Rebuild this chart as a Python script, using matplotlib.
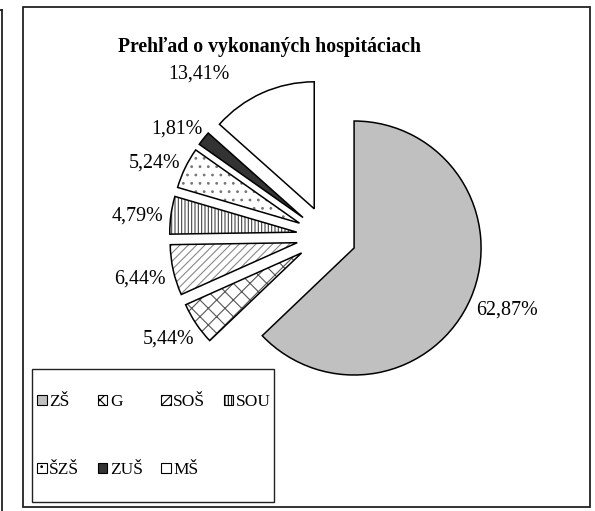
import numpy as np
import matplotlib
matplotlib.use("Agg")
import matplotlib.pyplot as plt
import matplotlib.patches as mpatches

plt.rcParams['font.family'] = ['Liberation Serif', 'DejaVu Serif']
plt.rcParams['hatch.linewidth'] = 0.8

# data
labels = ["ZŠ", "G", "SOŠ", "SOU", "ŠZŠ", "ZUŠ", "MŠ"]
shares = [62.87, 5.44, 6.44, 4.79, 5.24, 1.81, 13.41]
title = "Prehľad o vykonaných hospitáciach"

# fills imitating the Excel black/white patterns
faces = ["#c0c0c0", "white", "white", "white", "white", "#333333", "white"]
hatches = [None, "xx", "////", "|||||", "..", None, None]
hatch_cols = [None, "#555555", "#888888", "#444444", "#777777", None, None]

W, H = 595, 511
fig = plt.figure(figsize=(W / 100, H / 100), dpi=100)
ax = fig.add_axes([0, 0, 1, 1])

r = 127
center = (326.5, H - 236.2)
# explode is in data units here, so the 30 px gap of the original
wedges, texts, autotexts = ax.pie(
    shares, radius=r, center=center, startangle=90, counterclock=False,
    explode=[30] * len(shares), colors=faces,
    autopct=lambda p: f"{p:.2f}%".replace(".", ","), pctdistance=1.3,
    wedgeprops=dict(edgecolor="black", linewidth=1.1),
    textprops=dict(fontsize=14.4, color="black"))

# hatched wedges: draw hatch in gray, then a black outline on top
for w, h, hc in zip(wedges, hatches, hatch_cols):
    if h:
        w.set_hatch(h)
        w.set_edgecolor(hc)
        w.set_linewidth(0)
        ax.add_patch(mpatches.Wedge(w.center, w.r, w.theta1, w.theta2,
                                    fill=False, edgecolor="black", linewidth=1.1))

ax.set_xlim(0, W)
ax.set_ylim(0, H)
ax.set_aspect("equal")
ax.axis("off")

# place labels Excel-style: box just outside the arc, pushed by half its size
fig.canvas.draw()
for w, t in zip(wedges[:-1], autotexts[:-1]):
    th = np.deg2rad((w.theta1 + w.theta2) / 2)
    bb = t.get_window_extent()
    c, s = np.cos(th), np.sin(th)
    d = w.r + 8
    t.set_position((w.center[0] + d * c + bb.width / 2 * c,
                    w.center[1] + d * s + 13 * s - 4))

# Excel nudged the MŠ label away from the title
w = wedges[-1]
th = np.deg2rad((w.theta1 + w.theta2) / 2 + 16)
autotexts[-1].set_position((w.center[0] + 1.41 * r * np.cos(th),
                            w.center[1] + 1.41 * r * np.sin(th) - 2))

ax.text(269, H - 47, title, ha="center", va="center", fontsize=14.2, fontweight="bold")

# chart frame and the edge of the neighbouring chart
ax.add_patch(mpatches.Rectangle((23, H - 507), 567, 500, fill=False,
                                edgecolor="#222222", linewidth=1.3))
ax.plot([2, 2], [0, H - 10], color="#222222", linewidth=1.3)
ax.plot([0, 2], [H - 10, H - 10], color="#222222", linewidth=1.3)

# legend, row-wise like Excel (matplotlib fills columns first)
proxies = [mpatches.Patch(facecolor=f, hatch=h, edgecolor="black", linewidth=0.8)
           for f, h in zip(faces, hatches)]
order = [0, 4, 1, 5, 2, 6, 3]
ax.add_patch(mpatches.Rectangle((32, H - 502), 242, 133, fill=False,
                                edgecolor="#222222", linewidth=1.0))
ax.legend([proxies[i] for i in order], [labels[i] for i in order], ncol=4,
          loc="center left", bbox_to_anchor=(32, H - 436), bbox_transform=ax.transData,
          frameon=False, fontsize=12.5, handlelength=0.55, handleheight=0.55,
          handletextpad=0.15, columnspacing=1.05, labelspacing=3.0, borderpad=0.0,
          borderaxespad=0.3)

fig.savefig("out.png", dpi=100)
